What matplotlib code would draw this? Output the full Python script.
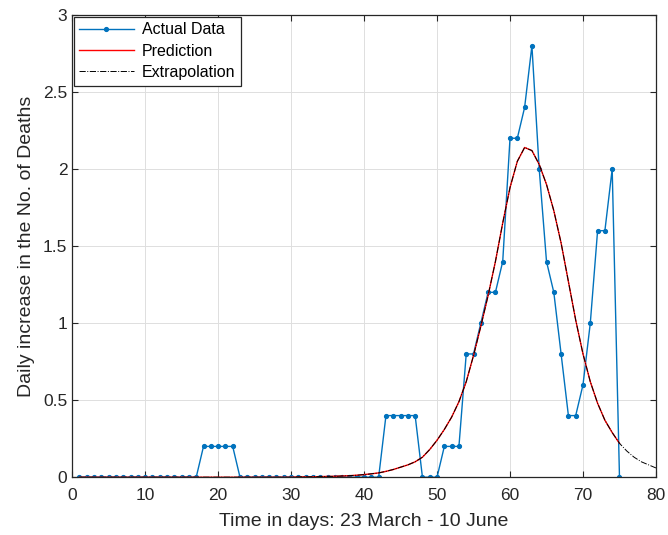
import matplotlib.pyplot as plt
import numpy as np

plt.rcParams['font.family'] = ['Liberation Sans', 'DejaVu Sans']

# observed daily deaths, days 1..75
days = np.arange(1, 76)
actual = [0] * 17 + [0.2] * 5 + [0] * 20 + [0.4] * 5 + [0] * 3 + [0.2] * 3 + \
    [0.8, 0.8, 1.0, 1.2, 1.2, 1.4, 2.2, 2.2, 2.4, 2.8, 2.0, 1.4, 1.2, 0.8,
     0.4, 0.4, 0.6, 1.0, 1.6, 1.6, 2.0, 0]

# fitted model, days 1..80
fit_days = np.arange(1, 81)
fit = [0.0] * 30 + [
    0.002, 0.0025, 0.003, 0.004, 0.005, 0.006, 0.008, 0.01, 0.013,   # 31-39
    0.017, 0.022, 0.028, 0.038, 0.05, 0.065, 0.08, 0.1, 0.13, 0.18,  # 40-49
    0.24, 0.31, 0.39, 0.49, 0.62, 0.79, 0.98, 1.18, 1.4, 1.65,       # 50-59
    1.88, 2.05, 2.14, 2.12, 2.03, 1.9, 1.73, 1.52, 1.27, 1.02,       # 60-69
    0.8, 0.62, 0.48, 0.37, 0.29, 0.22, 0.17, 0.13, 0.1, 0.08,        # 70-79
    0.06]                                                            # 80

xticks = [0, 10, 20, 30, 40, 50, 60, 70, 80]
yticks = [0, 0.5, 1, 1.5, 2, 2.5, 3]
ytick_labels = ['0', '0.5', '1', '1.5', '2', '2.5', '3']

fig = plt.figure(figsize=(6.68, 5.35), dpi=100)
ax = fig.add_axes([0.108, 0.108, 0.874, 0.864])

ax.plot(days, actual, '-', color='#0072BD', lw=1.0, marker='.', ms=5.5,
        label='Actual Data')
ax.plot(fit_days[:75], fit[:75], '-', color='red', lw=1.0, label='Prediction')
ax.plot(fit_days, fit, '-.', color='black', lw=0.7, label='Extrapolation')

ax.set_xlim(0, 80)
ax.set_ylim(0, 3)
ax.set_xticks(xticks)
ax.set_yticks(yticks)
ax.set_yticklabels(ytick_labels)
ax.tick_params(direction='in', top=True, right=True, labelsize=12.5,
               colors='#262626', length=4, width=0.8)
ax.tick_params(axis='x', pad=8)
ax.grid(True, color='#dedede', lw=0.7)
ax.set_axisbelow(True)
for s in ax.spines.values():
    s.set_color('#262626')
    s.set_linewidth(0.9)

ax.set_xlabel('Time in days: 23 March - 10 June', fontsize=14, color='#262626',
              labelpad=7)
ax.set_ylabel('Daily increase in the No. of Deaths', fontsize=14,
              color='#262626', labelpad=6)

leg = ax.legend(loc='upper left', fontsize=11.5, fancybox=False, framealpha=1,
                edgecolor='#262626', borderaxespad=0.1, handlelength=3.4,
                handletextpad=0.5, borderpad=0.35, labelspacing=0.4)
leg.get_frame().set_linewidth(0.9)

fig.savefig('out.png', dpi=100)
